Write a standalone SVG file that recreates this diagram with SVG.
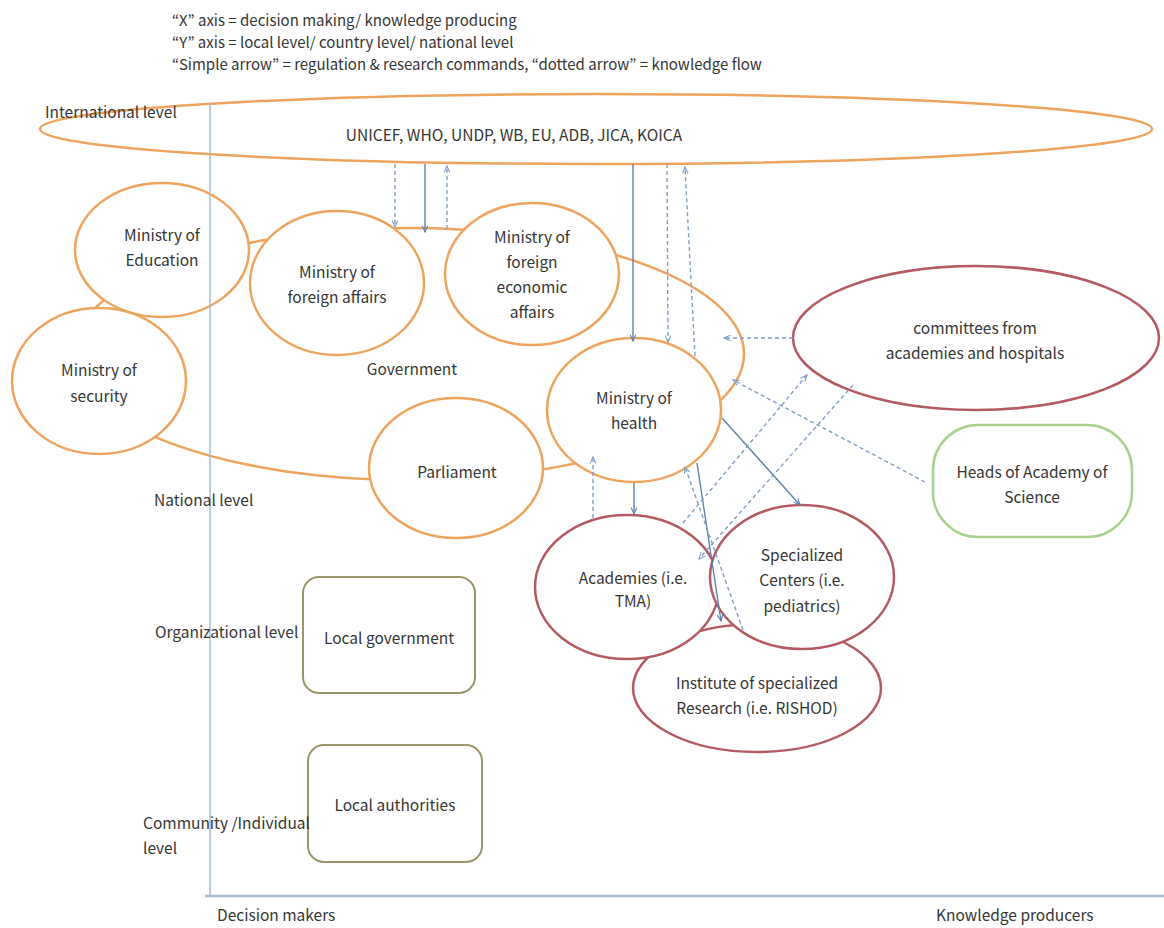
<svg xmlns="http://www.w3.org/2000/svg" width="1164" height="928" viewBox="0 0 1164 928">
<defs>
<style>
text{font-family:"Noto Sans CJK KR","Liberation Sans",sans-serif;font-size:15.5px;fill:#363636}
.c{text-anchor:middle}
.ttl{font-size:15px}
.or{fill:#fff;stroke:#eda45e;stroke-width:2.5}
.ring{fill:none;stroke:#eda45e;stroke-width:2.5}
.rd{fill:#fff;stroke:#b35a63;stroke-width:2.5}
.gr{fill:#fff;stroke:#a9d18e;stroke-width:2.5}
.ol{fill:#fff;stroke:#9c966c;stroke-width:2}
.ax{stroke:#a9bcd2;fill:none}
.sol{stroke:#5f82b0;stroke-width:1.4;fill:none;marker-end:url(#ah)}
.dsh{stroke:#7f9fc8;stroke-width:1.4;fill:none;stroke-dasharray:4 3;marker-end:url(#ahd)}
</style>
<marker id="ah" viewBox="0 0 10 10" refX="9" refY="5" markerWidth="8" markerHeight="8" orient="auto" markerUnits="userSpaceOnUse">
<path d="M1,1.5 L9,5 L1,8.5" fill="none" stroke="#5f82b0" stroke-width="1.4"/>
</marker>
<marker id="ahd" viewBox="0 0 10 10" refX="9" refY="5" markerWidth="8" markerHeight="8" orient="auto" markerUnits="userSpaceOnUse">
<path d="M1,1.5 L9,5 L1,8.5" fill="none" stroke="#7f9fc8" stroke-width="1.4"/>
</marker>
</defs>
<rect width="1164" height="928" fill="#fff"/>

<g id="legend">
<text class="ttl" x="172" y="26">“X” axis = decision making/ knowledge producing</text>
<text class="ttl" x="172" y="48">“Y” axis = local level/ country level/ national level</text>
<text class="ttl" x="172" y="70">“Simple arrow” = regulation &amp; research commands, “dotted arrow” = knowledge flow</text>
</g>

<g id="international">
<ellipse class="ring" cx="596" cy="129" rx="556" ry="35"/>
<text class="c" x="514" y="141">UNICEF, WHO, UNDP, WB, EU, ADB, JICA, KOICA</text>
</g>

<g id="government">
<ellipse class="ring" cx="408" cy="354" rx="336" ry="126"/>
<text class="c" x="412" y="375">Government</text>
</g>

<g id="ministry-education">
<ellipse class="or" cx="162" cy="250" rx="87" ry="67"/>
<text class="c" x="162" y="241">Ministry of</text>
<text class="c" x="162" y="266">Education</text>
</g>
<g id="ministry-security">
<ellipse class="or" cx="99" cy="381" rx="87" ry="73"/>
<text class="c" x="99" y="376">Ministry of</text>
<text class="c" x="99" y="402">security</text>
</g>
<g id="ministry-foreign-affairs">
<ellipse class="or" cx="337" cy="283" rx="87" ry="72"/>
<text class="c" x="337" y="278">Ministry of</text>
<text class="c" x="337" y="303">foreign affairs</text>
</g>
<g id="ministry-foreign-economic-affairs">
<ellipse class="or" cx="532" cy="274" rx="87" ry="71"/>
<text class="c" x="532" y="243">Ministry of</text>
<text class="c" x="532" y="268">foreign</text>
<text class="c" x="532" y="293">economic</text>
<text class="c" x="532" y="318">affairs</text>
</g>
<g id="parliament">
<ellipse class="or" cx="456" cy="468" rx="87" ry="70"/>
<text class="c" x="457" y="478">Parliament</text>
</g>
<g id="ministry-health">
<ellipse class="or" cx="634" cy="410" rx="87" ry="72"/>
<text class="c" x="634" y="404">Ministry of</text>
<text class="c" x="634" y="429">health</text>
</g>

<g id="committees">
<ellipse class="rd" cx="976" cy="338" rx="183" ry="72"/>
<text class="c" x="975" y="334">committees from</text>
<text class="c" x="975" y="359">academies and hospitals</text>
</g>
<g id="heads-academy">
<rect class="gr" x="933" y="425" width="199" height="112" rx="45"/>
<text class="c" x="1032" y="478">Heads of Academy of</text>
<text class="c" x="1032" y="503">Science</text>
</g>

<g id="institute">
<ellipse class="rd" cx="757" cy="688" rx="124" ry="64"/>
<text class="c" x="757" y="689">Institute of specialized</text>
<text class="c" x="757" y="714">Research (i.e. RISHOD)</text>
</g>
<g id="academies">
<ellipse class="rd" cx="627" cy="587" rx="92" ry="72"/>
<text class="c" x="633" y="584">Academies (i.e.</text>
<text class="c" x="633" y="607">TMA)</text>
</g>
<g id="specialized-centers">
<ellipse class="rd" cx="802" cy="577" rx="92" ry="72"/>
<text class="c" x="802" y="561">Specialized</text>
<text class="c" x="802" y="586">Centers (i.e.</text>
<text class="c" x="802" y="612">pediatrics)</text>
</g>

<g id="local-government">
<rect class="ol" x="303" y="577" width="172" height="116" rx="16"/>
<text class="c" x="389" y="644">Local government</text>
</g>
<g id="local-authorities">
<rect class="ol" x="308" y="745" width="174" height="117" rx="16"/>
<text class="c" x="395" y="811">Local authorities</text>
</g>

<g id="axes">
<line class="ax" x1="210" y1="103" x2="210" y2="896" stroke-width="1.5"/>
<line class="ax" x1="205" y1="896" x2="1164" y2="896" stroke-width="2.5"/>
<text x="45" y="118">International level</text>
<text x="154" y="506">National level</text>
<text x="155" y="638">Organizational level</text>
<text x="143" y="829">Community /Individual</text>
<text x="143" y="854">level</text>
<text x="217" y="921">Decision makers</text>
<text x="936" y="921">Knowledge producers</text>
</g>

<g id="connectors">
<line class="sol" x1="425" y1="164" x2="425" y2="232"/>
<line class="sol" x1="633" y1="164" x2="633" y2="341"/>
<line class="sol" x1="722" y1="418" x2="800" y2="505"/>
<line class="sol" x1="634" y1="483" x2="634" y2="514"/>
<line class="sol" x1="697" y1="463" x2="721" y2="621"/>
<line class="dsh" x1="395" y1="164" x2="395" y2="227"/>
<line class="dsh" x1="447" y1="229" x2="447" y2="166"/>
<line class="dsh" x1="667" y1="164" x2="668" y2="342"/>
<line class="dsh" x1="695" y1="356" x2="685" y2="167"/>
<line class="dsh" x1="793" y1="338" x2="724" y2="338"/>
<line class="dsh" x1="925" y1="482" x2="733" y2="380"/>
<line class="dsh" x1="683" y1="523" x2="807" y2="375"/>
<line class="dsh" x1="853" y1="385" x2="699" y2="559"/>
<line class="dsh" x1="593" y1="518" x2="593" y2="457"/>
<line class="dsh" x1="743" y1="630" x2="685" y2="467"/>
</g>
</svg>
